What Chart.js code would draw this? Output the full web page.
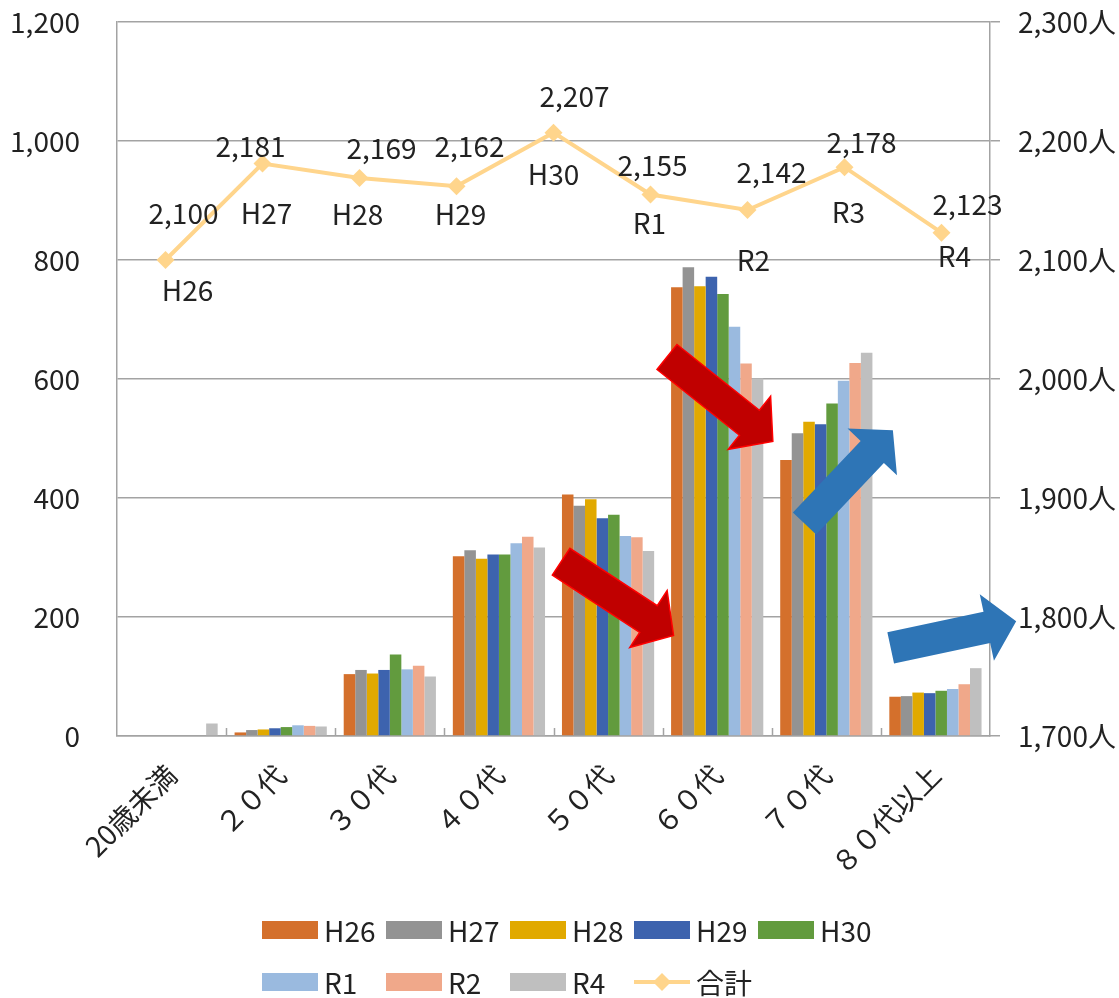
<!DOCTYPE html>
<html>
<head>
<meta charset="utf-8">
<title>年代別人数の推移</title>
<style>
  html, body { margin: 0; padding: 0; background: #ffffff; }
  #wrap { position: relative; width: 1119px; height: 998px; }
  #wrap canvas { position: absolute; left: 0; top: 0; }
</style>
<script src="https://cdn.jsdelivr.net/npm/chart.js@4.4.1/dist/chart.umd.min.js"></script>
</head>
<body>
<div id="wrap">
  <canvas id="bars" width="1119" height="998"></canvas>
  <canvas id="totals" width="1119" height="998"></canvas>
</div>
<script>
// Age groups on the category axis
const ageGroups = ['20歳未満', '２０代', '３０代', '４０代', '５０代', '６０代', '７０代', '８０代以上'];

// Headcount per age group, one array per year
const H26 = [0, 6, 104, 302, 406, 754, 464, 66];
const H27 = [0, 10, 111, 312, 387, 788, 509, 67];
const H28 = [0, 11, 105, 298, 398, 756, 528, 73];
const H29 = [0, 13, 111, 305, 366, 772, 524, 72];
const H30 = [0, 15, 137, 305, 372, 743, 559, 76];
const R1  = [0, 18, 112, 324, 336, 688, 597, 79];
const R2  = [0, 17, 118, 335, 334, 626, 627, 87];
const R4  = [21, 16, 100, 317, 311, 601, 644, 114];

// Yearly totals (right axis)
const yearLabels = ['H26', 'H27', 'H28', 'H29', 'H30', 'R1', 'R2', 'R3', 'R4'];
const totals = [2100, 2181, 2169, 2162, 2207, 2155, 2142, 2178, 2123];

// Axis ranges: [min, max, step]
const leftRange = [0, 1200, 200];
const rightRange = [1700, 2300, 100];

// Styling
const W = 1119, H = 998;
const FONT = '"Noto Sans CJK JP", "Noto Sans", sans-serif';
const TEXT = '#222222';
const GRID = '#a3a3a3';
const LINE = '#ffd58c';

const barSeries = [
  { label: 'H26', data: H26, color: '#d4702c' },
  { label: 'H27', data: H27, color: '#939393' },
  { label: 'H28', data: H28, color: '#e1a900' },
  { label: 'H29', data: H29, color: '#3d63ae' },
  { label: 'H30', data: H30, color: '#629b3e' },
  { label: 'R1',  data: R1,  color: '#9abadf' },
  { label: 'R2',  data: R2,  color: '#f0a88a' },
  { label: 'R4',  data: R4,  color: '#bfbfbf' }
];

// Placement of the value / year captions around each total marker (px offsets)
const valueNudge = [[18, -47], [-12, -17], [22, -30], [13, -40], [21, -36], [2, -29], [24, -38], [17, -25], [26, -28]];
const nameNudge  = [[22, 30], [4, 50], [-2, 36], [4, 28], [0, 42], [-1, 29], [6, 50], [4, 45], [13, 24]];

// Trend arrows, ends given in (category index, left-axis value)
const trendArrows = [
  { from: [3.57, 293], to: [4.60, 169], fill: '#c00000', stroke: '#ff0000' },
  { from: [4.54, 637], to: [5.51, 495], fill: '#c00000', stroke: '#ff0000' },
  { from: [5.80, 357], to: [6.61, 514], fill: '#2e75b6', stroke: null },
  { from: [6.59, 148], to: [7.74, 193], fill: '#2e75b6', stroke: null }
];

const fmt = (v) => v.toLocaleString('en-US');

const barDatasets = barSeries.map((s) => ({
  label: s.label,
  data: s.data,
  backgroundColor: s.color,
  borderWidth: 0,
  categoryPercentage: 0.845,
  barPercentage: 1.0
}));

const totalDataset = {
  label: '合計',
  data: totals,
  borderColor: LINE,
  backgroundColor: LINE,
  borderWidth: 4,
  pointStyle: 'rectRot',
  pointRadius: 9,
  pointBorderWidth: 0,
  pointBackgroundColor: LINE,
  tension: 0
};

function drawArrow(ctx, x1, y1, x2, y2, fill, stroke) {
  const shaft = 32, head = 68, headLen = 30;
  const dx = x2 - x1, dy = y2 - y1;
  const len = Math.hypot(dx, dy);
  const ux = dx / len, uy = dy / len;
  const nx = -uy, ny = ux;
  const bx = x2 - ux * headLen, by = y2 - uy * headLen;
  const pts = [
    [x1 + nx * shaft / 2, y1 + ny * shaft / 2],
    [bx + nx * shaft / 2, by + ny * shaft / 2],
    [bx + nx * head / 2, by + ny * head / 2],
    [x2, y2],
    [bx - nx * head / 2, by - ny * head / 2],
    [bx - nx * shaft / 2, by - ny * shaft / 2],
    [x1 - nx * shaft / 2, y1 - ny * shaft / 2]
  ];
  ctx.beginPath();
  pts.forEach((p, i) => (i ? ctx.lineTo(p[0], p[1]) : ctx.moveTo(p[0], p[1])));
  ctx.closePath();
  ctx.fillStyle = fill;
  ctx.fill();
  if (stroke) {
    ctx.lineWidth = 1.5;
    ctx.strokeStyle = stroke;
    ctx.lineJoin = 'miter';
    ctx.stroke();
  }
}

// Inner ticks, trend arrows and the two-row legend on the bar chart
const barDecorations = {
  id: 'barDecorations',
  afterDatasetsDraw(chart) {
    const { ctx, chartArea, scales } = chart;
    const xs = scales.x, ys = scales.y;
    ctx.save();
    ctx.strokeStyle = GRID;
    ctx.lineWidth = 1.5;
    for (let i = 1; i < ageGroups.length; i++) {
      const x = Math.round(xs.getPixelForValue(i - 0.5)) + 0.5;
      ctx.beginPath();
      ctx.moveTo(x, chartArea.bottom);
      ctx.lineTo(x, chartArea.bottom - 8);
      ctx.stroke();
    }
    trendArrows.forEach((a) => {
      drawArrow(ctx,
        xs.getPixelForValue(a.from[0]), ys.getPixelForValue(a.from[1]),
        xs.getPixelForValue(a.to[0]), ys.getPixelForValue(a.to[1]),
        a.fill, a.stroke);
    });
    ctx.restore();
  },
  afterDraw(chart) {
    const { ctx } = chart;
    const items = chart.data.datasets.map((ds) => ({ label: ds.label, color: ds.backgroundColor, line: false }))
      .concat([{ label: totalDataset.label, color: totalDataset.borderColor, line: true }]);
    const colX = 262, colStep = 124, rowY = [930, 982], perRow = 5;
    const boxW = 56, boxH = 18;
    ctx.save();
    ctx.font = '28px ' + FONT;
    ctx.textBaseline = 'middle';
    ctx.textAlign = 'left';
    items.forEach((it, i) => {
      const x = colX + (i % perRow) * colStep;
      const y = rowY[Math.floor(i / perRow)];
      if (it.line) {
        ctx.strokeStyle = it.color;
        ctx.lineWidth = totalDataset.borderWidth;
        ctx.beginPath();
        ctx.moveTo(x, y);
        ctx.lineTo(x + boxW, y);
        ctx.stroke();
        const r = totalDataset.pointRadius;
        ctx.fillStyle = it.color;
        ctx.beginPath();
        ctx.moveTo(x + boxW / 2, y - r);
        ctx.lineTo(x + boxW / 2 + r, y);
        ctx.lineTo(x + boxW / 2, y + r);
        ctx.lineTo(x + boxW / 2 - r, y);
        ctx.closePath();
        ctx.fill();
      } else {
        ctx.fillStyle = it.color;
        ctx.fillRect(x, y - boxH / 2, boxW, boxH);
      }
      ctx.fillStyle = TEXT;
      ctx.fillText(it.label, x + boxW + 6, y + 1);
    });
    ctx.restore();
  }
};

// Value and year captions around the totals markers
const totalCaptions = {
  id: 'totalCaptions',
  afterDatasetsDraw(chart) {
    const { ctx } = chart;
    const meta = chart.getDatasetMeta(0);
    const values = chart.data.datasets[0].data;
    const names = chart.data.labels;
    ctx.save();
    ctx.font = '28px ' + FONT;
    ctx.fillStyle = TEXT;
    ctx.textAlign = 'center';
    ctx.textBaseline = 'middle';
    meta.data.forEach((pt, i) => {
      ctx.fillText(fmt(values[i]), pt.x + valueNudge[i][0], pt.y + valueNudge[i][1]);
      ctx.fillText(names[i], pt.x + nameNudge[i][0], pt.y + nameNudge[i][1]);
    });
    ctx.restore();
  }
};

function fixVertical(scale, width) {
  scale.width = width;
  scale.paddingTop = 0;
  scale.paddingBottom = 0;
}

const barChart = new Chart(document.getElementById('bars'), {
  type: 'bar',
  data: { labels: ageGroups, datasets: barDatasets },
  options: {
    responsive: false,
    devicePixelRatio: 1,
    animation: false,
    events: [],
    layout: { padding: { top: 22, left: 0, right: 0, bottom: 0 } },
    plugins: { legend: { display: false }, tooltip: { enabled: false } },
    scales: {
      x: {
        type: 'category',
        offset: true,
        grid: { display: false },
        border: { display: true, color: GRID, width: 1.5 },
        ticks: {
          color: TEXT,
          font: { family: FONT, size: 28 },
          maxRotation: 45,
          minRotation: 45,
          autoSkip: false,
          padding: 14
        },
        afterFit(scale) { scale.height = 262; }
      },
      y: {
        position: 'left',
        min: leftRange[0],
        max: leftRange[1],
        ticks: {
          stepSize: leftRange[2],
          color: TEXT,
          font: { family: FONT, size: 28 },
          padding: 37,
          callback: (v) => fmt(v)
        },
        grid: { color: GRID, lineWidth: 1.5, drawTicks: false },
        border: { display: true, color: GRID, width: 1.5 },
        afterFit(scale) { fixVertical(scale, 117); }
      },
      y2: {
        position: 'right',
        min: rightRange[0],
        max: rightRange[1],
        ticks: {
          stepSize: rightRange[2],
          color: TEXT,
          font: { family: FONT, size: 28 },
          padding: 18,
          callback: (v) => fmt(v) + '人'
        },
        grid: { drawOnChartArea: false, color: GRID, lineWidth: 1.5, tickLength: 10 },
        border: { display: true, color: GRID, width: 1.5 },
        afterFit(scale) { fixVertical(scale, 129); }
      }
    }
  },
  plugins: [barDecorations]
});

// The totals line sits on its own canvas, sharing the bar chart's plot area
const area = barChart.chartArea;
new Chart(document.getElementById('totals'), {
  type: 'line',
  data: { labels: yearLabels, datasets: [totalDataset] },
  options: {
    responsive: false,
    devicePixelRatio: 1,
    animation: false,
    events: [],
    layout: { padding: { left: area.left, top: area.top, right: W - area.right, bottom: H - area.bottom } },
    plugins: { legend: { display: false }, tooltip: { enabled: false } },
    scales: {
      x: { type: 'category', offset: true, display: false },
      y: { min: rightRange[0], max: rightRange[1], display: false }
    }
  },
  plugins: [totalCaptions]
});
</script>
</body>
</html>
